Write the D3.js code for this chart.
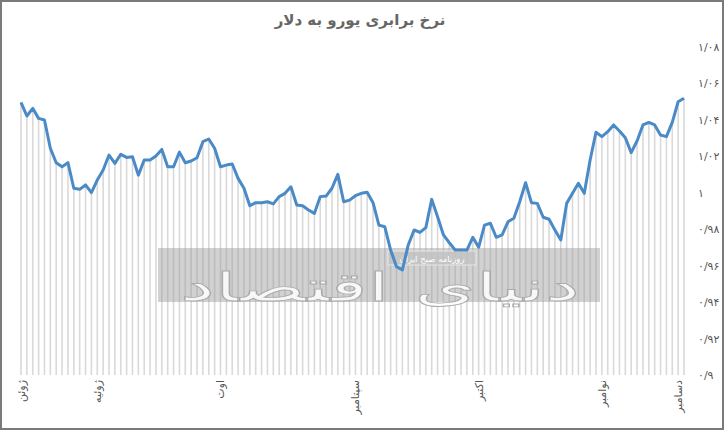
<!DOCTYPE html>
<html><head><meta charset="utf-8">
<script src="https://cdn.jsdelivr.net/npm/d3@7"></script>
<style>
html,body{margin:0;padding:0;background:#fff;}
svg{display:block;font-family:"DejaVu Sans",sans-serif;}
</style></head>
<body>
<svg id="chart" width="724" height="430"></svg>
<script>
const title = "نرخ برابری یورو به دلار";
const rates = [
1.0495,1.0420,1.0462,1.0407,1.0398,1.0243,1.0164,1.0142,1.0164,1.0024,
1.0018,1.0042,1.0000,1.0069,1.0124,1.0206,1.0160,1.0210,1.0193,1.0197,
1.0096,1.0179,1.0179,1.0201,1.0237,1.0142,1.0142,1.0222,1.0164,1.0173,
1.0191,1.0279,1.0294,1.0243,1.0142,1.0151,1.0157,1.0078,1.0024,0.9928,
0.9945,0.9945,0.9950,0.9938,0.9978,0.9996,1.0032,0.9932,0.9928,0.9905,
0.9886,0.9978,0.9981,1.0024,1.0100,0.9950,0.9959,0.9983,0.9996,1.0002,
0.9945,0.9822,0.9813,0.9685,0.9594,0.9576,0.9713,0.9795,0.9782,0.9808,
0.9963,0.9868,0.9768,0.9725,0.9685,0.9685,0.9685,0.9755,0.9700,0.9822,
0.9832,0.9755,0.9768,0.9840,0.9859,0.9950,1.0054,0.9945,0.9941,0.9865,
0.9854,0.9795,0.9740,0.9941,0.9996,1.0051,0.9996,1.0179,1.0331,1.0307,
1.0334,1.0371,1.0338,1.0301,1.0219,1.0283,1.0371,1.0385,1.0371,1.0316,
1.0307,1.0385,1.0498,1.0517];
const monthLabels = ["ژوئن","ژوئیه","اوت","سپتامبر","اکتبر","نوامبر","دسامبر"];
const monthIndex = [0, 13, 34, 57, 78, 99, 112];
const yTicks = [0.9,0.92,0.94,0.96,0.98,1,1.02,1.04,1.06,1.08];

const svg = d3.select("#chart");
const W = 724, H = 430;
const x = d3.scaleLinear().domain([0, rates.length - 1]).range([21, 684]);
const y = d3.scaleLinear().domain([0.9, 1.08]).range([375, 46.7]);

const fa = s => s.replace(/[0-9]/g, d => "۰۱۲۳۴۵۶۷۸۹"[+d]);
const fmt = v => fa(String(+v.toFixed(2)).replace(".", "/"));

// frame
svg.append("rect").attr("x",1).attr("y",1).attr("width",W-2).attr("height",H-2)
  .attr("fill","#fff").attr("stroke","#7a7a7a").attr("stroke-width",2);

// title
svg.append("text").attr("x",360).attr("y",25).attr("text-anchor","middle")
  .attr("font-size",15).attr("font-weight","bold").attr("fill","#666").text(title);

// drop lines
svg.append("g").selectAll("line").data(rates).join("line")
  .attr("x1",(d,i)=>x(i)).attr("x2",(d,i)=>x(i))
  .attr("y1",d=>y(d)).attr("y2",y(0.9))
  .attr("stroke","#d9d9d9").attr("stroke-width",1.6);

// watermark band
const wm = svg.append("g");
wm.append("rect").attr("x",158).attr("y",248).attr("width",442).attr("height",54)
  .attr("fill","#9a9a9a").attr("opacity",0.45);
wm.append("text").attr("x",380).attr("y",301).attr("text-anchor","middle")
  .attr("font-size",40).attr("textLength",400).attr("lengthAdjust","spacingAndGlyphs")
  .attr("fill","#fff").attr("fill-opacity",0.85)
  .attr("stroke","#aaa").attr("stroke-width",0.8).text("دنیای اقتصاد");
wm.append("rect").attr("x",388).attr("y",251).attr("width",88).attr("height",14)
  .attr("fill","#c4c4c4").attr("stroke","#eee").attr("stroke-width",1).attr("opacity",0.8);
wm.append("text").attr("x",432).attr("y",261.5).attr("text-anchor","middle")
  .attr("font-size",8.5).attr("fill","#fff").text("روزنامه صبح ایران");

// line
svg.append("path").datum(rates)
  .attr("d", d3.line().x((d,i)=>x(i)).y(d=>y(d)))
  .attr("fill","none").attr("stroke","#4a8ac6").attr("stroke-width",3)
  .attr("stroke-linejoin","round");

// y axis
const ya = svg.append("g").attr("transform","translate(694,0)")
  .call(d3.axisRight(y).tickValues(yTicks).tickFormat(fmt).tickSize(0).tickPadding(4));
ya.select(".domain").remove();
ya.selectAll("text").attr("font-size",11).attr("fill","#555").attr("font-family","DejaVu Sans");

// x labels
svg.append("g").selectAll("text").data(monthIndex).join("text")
  .attr("transform",(d)=>`translate(${x(d)+4},380) rotate(-90)`)
  .attr("text-anchor","end").attr("font-size",11).attr("fill","#555")
  .text((d,i)=>monthLabels[i]);
</script>
</body></html>
